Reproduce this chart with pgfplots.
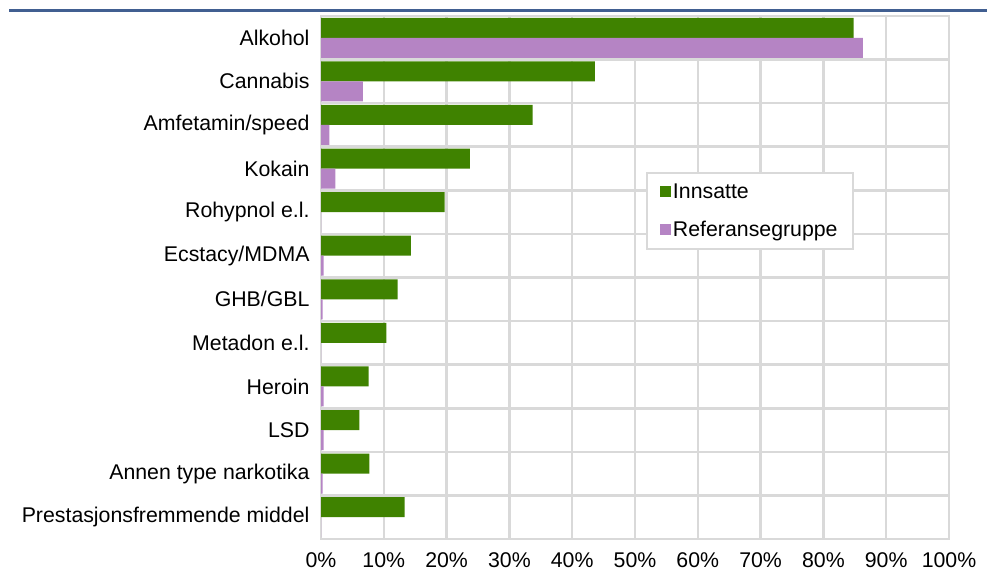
\documentclass[border=0pt]{standalone}
\usepackage{pgfplots}
\pgfplotsset{compat=1.18}
\usepackage{fontspec}
\setmainfont{Liberation Sans}
\definecolor{grn}{RGB}{63,130,0}
\definecolor{pur}{RGB}{181,132,196}
\definecolor{grd}{RGB}{217,217,217}
\definecolor{topblue}{RGB}{65,95,145}
\begin{document}
\begin{tikzpicture}
\useasboundingbox (0,0) rectangle (987pt,572pt);
\draw[topblue, line width=3pt] (9pt,561pt) -- (987pt,561pt);
\begin{axis}[
  at={(321pt,33pt)}, anchor=south west,
  scale only axis, width=628pt, height=523pt,
  xbar, bar width=20pt,
  xmin=0, xmax=100,
  ymin=-0.5, ymax=11.5, y dir=reverse,
  ytick={0,...,11},
  yticklabels={Alkohol,Cannabis,Amfetamin/speed,Kokain,Rohypnol e.l.,Ecstacy/MDMA,GHB/GBL,Metadon e.l.,Heroin,LSD,Annen type narkotika,Prestasjonsfremmende middel},
  minor ytick={-0.5,0.5,...,11.5},
  xtick={0,10,...,100},
  xticklabel={\pgfmathprintnumber{\tick}\%},
  /pgf/number format/assume math mode=true,
  xmajorgrids, yminorgrids,
  grid style={grd, line width=2.5pt},
  minor grid style={grd, line width=2.5pt},
  axis line style={grd, line width=2.5pt},
  major tick length=0pt, minor tick length=0pt,
  tick style={draw=none},
  tick label style={font=\fontsize{21.3}{25}\selectfont, black},
  yticklabel style={xshift=-8pt},
  xticklabel style={yshift=-10pt},
  legend style={at={(0.5175,0.702)}, anchor=north west, draw=grd, line width=2pt,
    font=\fontsize{21.3}{25}\selectfont, row sep=17pt, inner xsep=13pt, inner ysep=9pt,
    legend cell align=left},
  legend image code/.code={\fill[#1] (0pt,-5.5pt) rectangle (11pt,5.5pt);},
  axis on top=false,
]
\addplot[fill=grn, draw=none, bar shift=10pt] coordinates {
(84.8,0) (43.6,1) (33.7,2) (23.7,3) (19.7,4) (14.3,5) (12.2,6) (10.4,7) (7.6,8) (6.1,9) (7.7,10) (13.3,11)};
\addplot[fill=pur, draw=none, bar shift=-10pt] coordinates {
(86.3,0) (6.65,1) (1.34,2) (2.3,3) (0,4) (0.4,5) (0.25,6) (0,7) (0.4,8) (0.4,9) (0.25,10) (0,11)};
\legend{Innsatte,Referansegruppe}
\end{axis}
\end{tikzpicture}
\end{document}
